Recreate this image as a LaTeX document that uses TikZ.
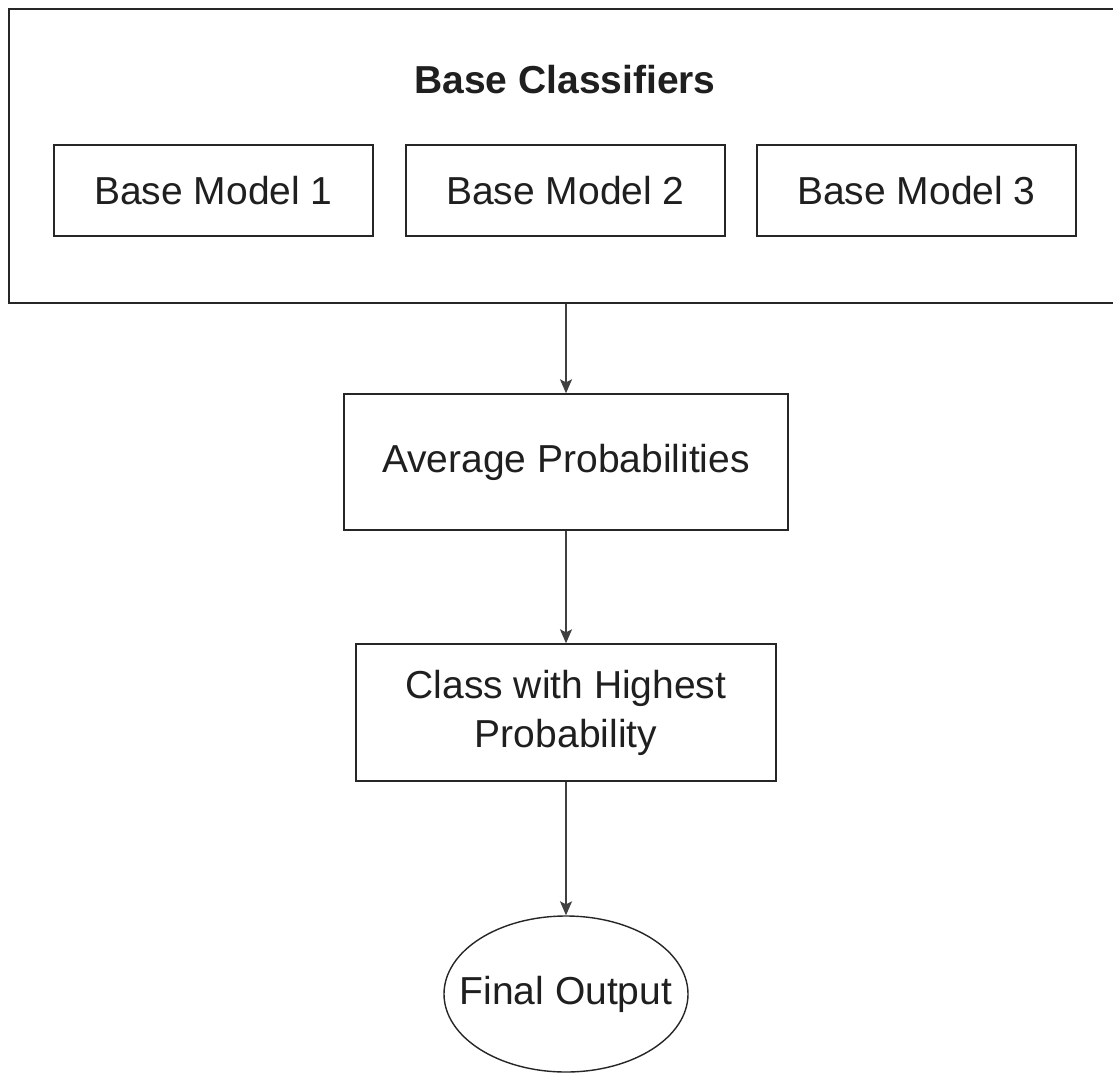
\documentclass[tikz,border=0pt]{standalone}
\usepackage{fontspec}
\setmainfont{Liberation Sans}
\usetikzlibrary{arrows.meta,shapes.geometric}
\begin{document}
\begin{tikzpicture}[x=1pt,y=-1pt,
  every node/.style={font=\fontsize{39}{49}\selectfont, text=black!88},
  boxline/.style={draw=black!85, line width=1.4pt},
  modelbox/.style={boxline, rectangle, minimum width=319pt, minimum height=91pt, inner sep=0pt},
  flowbox/.style={boxline, rectangle, inner sep=0pt, align=center},
  conn/.style={draw=black!75, line width=1.4pt, -{Stealth[length=14pt,width=12pt,inset=3pt]}}
]
\useasboundingbox[fill=white] (0,0) rectangle (1113,1073);
\node[boxline, rectangle, minimum width=1112pt, minimum height=294pt, inner sep=0pt] (base) at (565,156) {};
\node[font=\fontsize{39}{49}\selectfont\bfseries] (title) at (565,80) {Base Classifiers};
\node[modelbox] (m1) at (213.5,190.5) {Base Model 1};
\node[modelbox] (m2) at (565.5,190.5) {Base Model 2};
\node[modelbox] (m3) at (916.5,190.5) {Base Model 3};
\node[flowbox, minimum width=444pt, minimum height=136pt] (avg) at (566,462) {Average Probabilities};
\node[flowbox, minimum width=420pt, minimum height=137pt] (cls) at (566,712.5) {Class with Highest\\Probability};
\node[boxline, ellipse, inner xsep=-24pt, inner ysep=0pt, minimum width=244pt, minimum height=156pt] (out) at (566,994) {Final Output};
\draw[conn] (base.south -| avg.north) -- (avg.north);
\draw[conn] (avg.south) -- (cls.north);
\draw[conn] (cls.south) -- (out.north);
\end{tikzpicture}
\end{document}
